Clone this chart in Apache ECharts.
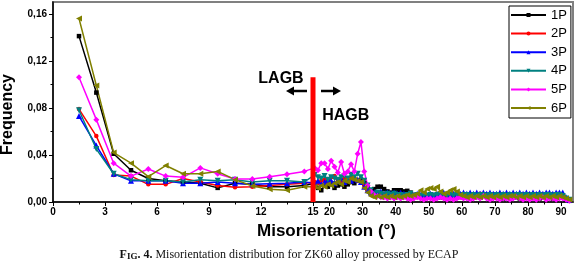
<!DOCTYPE html>
<html><head><meta charset="utf-8">
<script src="https://cdn.jsdelivr.net/npm/echarts@6/dist/echarts.min.js"></script>
<style>html,body{margin:0;padding:0;background:#fff}#c{width:578px;height:272px}</style>
</head><body><div id="c"></div>
<script>
// Bin centres (misorientation, degrees)
const binCenters = [
  1.5,2.5,3.5,4.5,5.5,6.5,7.5,8.5,9.5,10.5,
  11.5,12.5,13.5,14.5,15.5,16.5,17.5,18.5,19.5,20.5,
  21.5,22.5,23.5,24.5,25.5,26.5,27.5,28.5,29.5,30.5,
  31.5,32.5,33.5,34.5,35.5,36.5,37.5,38.5,39.5,40.5,
  41.5,42.5,43.5,44.5,45.5,46.5,47.5,48.5,49.5,50.5,
  51.5,52.5,53.5,54.5,55.5,56.5,57.5,58.5,59.5,60.5,
  61.5,62.5,63.5,64.5,65.5,66.5,67.5,68.5,69.5,70.5,
  71.5,72.5,73.5,74.5,75.5,76.5,77.5,78.5,79.5,80.5,
  81.5,82.5,83.5,84.5,85.5,86.5,87.5,88.5,89.5,90.5,
  91.5,92.5
];
const freq1P = [
  0.141,0.093,0.041,0.027,0.020,0.018,0.017,0.016,0.012,0.016,
  0.015,0.013,0.013,0.014,0.016,0.012,0.010,0.014,0.013,0.016,
  0.012,0.014,0.015,0.013,0.015,0.017,0.016,0.018,0.019,0.016,
  0.012,0.010,0.011,0.013,0.013,0.011,0.009,0.008,0.010,0.010,
  0.010,0.009,0.0095,0.008,0.006,0.005,0.005,0.006,0.004,0.005,
  0.004,0.005,0.004,0.006,0.005,0.004,0.005,0.004,0.005,0.004,
  0.005,0.004,0.006,0.005,0.004,0.006,0.005,0.004,0.005,0.004,
  0.005,0.003,0.005,0.004,0.005,0.004,0.003,0.005,0.004,0.005,
  0.004,0.005,0.003,0.004,0.005,0.004,0.003,0.004,0.005,0.004,
  0.002,0.001
];
const freq2P = [
  0.079,0.056,0.023,0.022,0.015,0.015,0.020,0.017,0.014,0.0125,
  0.013,0.014,0.015,0.016,0.017,0.016,0.018,0.019,0.017,0.021,
  0.022,0.019,0.018,0.020,0.019,0.021,0.020,0.018,0.017,0.014,
  0.010,0.007,0.006,0.007,0.006,0.007,0.005,0.006,0.007,0.006,
  0.005,0.006,0.005,0.007,0.005,0.004,0.006,0.005,0.004,0.005,
  0.006,0.004,0.005,0.004,0.005,0.006,0.004,0.005,0.004,0.006,
  0.005,0.004,0.006,0.005,0.007,0.005,0.004,0.005,0.006,0.004,
  0.005,0.004,0.006,0.005,0.004,0.005,0.006,0.004,0.005,0.004,
  0.005,0.006,0.004,0.005,0.004,0.005,0.006,0.005,0.004,0.005,
  0.003,0.002
];
const freq3P = [
  0.073,0.048,0.024,0.018,0.018,0.018,0.016,0.016,0.017,0.016,
  0.015,0.0155,0.016,0.017,0.016,0.018,0.015,0.017,0.019,0.018,
  0.016,0.018,0.020,0.017,0.019,0.018,0.020,0.019,0.017,0.013,
  0.010,0.008,0.008,0.008,0.009,0.007,0.008,0.007,0.008,0.007,
  0.008,0.007,0.006,0.007,0.006,0.007,0.006,0.007,0.006,0.007,
  0.006,0.007,0.006,0.008,0.007,0.006,0.007,0.006,0.007,0.008,
  0.007,0.008,0.007,0.008,0.007,0.008,0.007,0.008,0.007,0.007,
  0.008,0.007,0.008,0.007,0.008,0.007,0.008,0.007,0.008,0.007,
  0.008,0.007,0.008,0.007,0.008,0.008,0.007,0.008,0.008,0.008,
  0.004,0.002
];
const freq4P = [
  0.078,0.045,0.024,0.019,0.018,0.018,0.017,0.019,0.018,0.019,
  0.017,0.018,0.018,0.017,0.023,0.021,0.020,0.022,0.019,0.021,
  0.020,0.019,0.021,0.022,0.020,0.023,0.021,0.024,0.021,0.018,
  0.014,0.010,0.007,0.008,0.007,0.006,0.007,0.006,0.007,0.006,
  0.006,0.005,0.006,0.007,0.005,0.006,0.005,0.006,0.005,0.006,
  0.005,0.006,0.005,0.006,0.005,0.006,0.005,0.006,0.005,0.006,
  0.006,0.005,0.006,0.005,0.006,0.006,0.005,0.006,0.005,0.006,
  0.005,0.006,0.005,0.006,0.005,0.006,0.006,0.005,0.006,0.005,
  0.006,0.005,0.006,0.005,0.006,0.006,0.005,0.006,0.006,0.005,
  0.003,0.002
];
const freq5P = [
  0.106,0.070,0.033,0.022,0.028,0.022,0.021,0.029,0.024,0.0195,
  0.0195,0.0215,0.0235,0.026,0.029,0.027,0.033,0.033,0.028,0.035,
  0.030,0.025,0.034,0.024,0.026,0.032,0.026,0.041,0.051,0.026,
  0.014,0.009,0.006,0.005,0.004,0.004,0.003,0.004,0.003,0.004,
  0.003,0.004,0.003,0.002,0.003,0.004,0.003,0.002,0.003,0.003,
  0.002,0.003,0.004,0.003,0.002,0.003,0.002,0.003,0.004,0.003,
  0.003,0.002,0.003,0.004,0.003,0.005,0.003,0.002,0.003,0.003,
  0.002,0.003,0.003,0.002,0.003,0.004,0.003,0.002,0.003,0.002,
  0.003,0.002,0.003,0.004,0.002,0.003,0.003,0.002,0.003,0.003,
  0.002,0.001
];
const freq6P = [
  0.156,0.099,0.042,0.033,0.0215,0.031,0.024,0.024,0.026,0.019,
  0.0136,0.0108,0.010,0.013,0.013,0.012,0.014,0.013,0.015,0.014,
  0.016,0.017,0.015,0.018,0.017,0.020,0.019,0.018,0.017,0.012,
  0.008,0.005,0.004,0.005,0.004,0.005,0.004,0.005,0.004,0.005,
  0.004,0.005,0.006,0.005,0.006,0.007,0.010,0.008,0.011,0.012,
  0.011,0.013,0.009,0.007,0.008,0.010,0.011,0.009,0.006,0.005,
  0.004,0.005,0.004,0.005,0.004,0.005,0.004,0.005,0.004,0.005,
  0.004,0.005,0.004,0.005,0.005,0.004,0.005,0.004,0.005,0.004,
  0.005,0.004,0.005,0.004,0.005,0.004,0.005,0.004,0.005,0.004,
  0.003,0.002
];
const seriesNames = ['1P','2P','3P','4P','5P','6P'];
const seriesValues = [freq1P, freq2P, freq3P, freq4P, freq5P, freq6P];
const seriesColors = ['#000000','#ff0000','#0000ff','#008080','#ff00ff','#808000'];
const seriesSymbols = ['rect','circle','triangle','triangle','diamond','triangle'];
const seriesSymbolRotate = [0,0,0,180,0,90];
const xMajorTicks = [0,3,6,9,12,15,20,30,40,50,60,70,80,90];
const xMinorTicks = [1.5,4.5,7.5,10.5,13.5,25,35,45,55,65,75,85];
const yMajorTicks = [0,0.04,0.08,0.12,0.16];
const yMinorTicks = [0.02,0.06,0.10,0.14];
const boundaryLine = [[15,0],[15,0.106]];
const xBreak = 15, xEnd = 93.6, yMax = 0.17;

// broken axis: 0-15 on the left half, 15-93.6 compressed on the right half
function toAxis(x){ return x <= xBreak ? x : xBreak + (x - xBreak) * xBreak / (xEnd - xBreak); }
function fromAxis(t){ return t <= xBreak ? t : xBreak + (t - xBreak) * (xEnd - xBreak) / xBreak; }

const chart = echarts.init(document.getElementById('c'), null, {renderer:'canvas'});
const FONT = '"Liberation Sans", Arial, sans-serif';

const series = seriesNames.map((n, k) => ({
  name: n, type: 'line',
  data: binCenters.map((x, i) => [toAxis(x), seriesValues[k][i]]),
  symbol: seriesSymbols[k], symbolRotate: seriesSymbolRotate[k],
  symbolSize: seriesSymbols[k] === 'rect' ? 4.5 : (seriesSymbols[k] === 'circle' ? 4.5 : 6),
  showAllSymbol: true,
  lineStyle: {color: seriesColors[k], width: 1.5},
  itemStyle: {color: seriesColors[k]},
  animation: false
}));
series.push({
  name: 'boundary', type: 'line',
  data: boundaryLine.map(p => [toAxis(p[0]), p[1]]),
  symbol: 'none', lineStyle: {color: '#ff0000', width: 5}, z: 10, animation: false
});

chart.setOption({
  animation: false,
  backgroundColor: '#fff',
  grid: {left: 53, right: 5, top: 2, bottom: 70, show: true, borderColor: '#808080', borderWidth: 2, backgroundColor: 'transparent'},
  legend: {
    data: seriesNames, orient: 'vertical', left: 509, top: 6,
    itemWidth: 35, itemHeight: 5, itemGap: 4.6, padding: [2,4,3,1],
    borderColor: '#000', borderWidth: 1, backgroundColor: '#fff',
    textStyle: {fontFamily: FONT, fontSize: 13, color: '#000', lineHeight: 14}
  },
  xAxis: [{
    type: 'value', min: 0, max: 30,
    axisLine: {show: true, onZero: false, lineStyle: {color: '#000', width: 1.5}},
    axisTick: {show: true, length: 4, customValues: xMajorTicks.map(toAxis), lineStyle: {color: '#000', width: 1}},
    axisLabel: {customValues: xMajorTicks.map(toAxis), formatter: v => String(Math.round(fromAxis(v))),
      fontFamily: FONT, fontWeight: 'bold', fontSize: 10, color: '#000', margin: 5},
    splitLine: {show: false}
  }, {
    type: 'value', min: 0, max: 30, position: 'bottom', gridIndex: 0,
    axisLine: {show: false},
    axisTick: {show: true, length: 2.5, customValues: xMinorTicks.map(toAxis), lineStyle: {color: '#000', width: 1}},
    axisLabel: {show: false}, splitLine: {show: false}
  }],
  yAxis: [{
    type: 'value', min: 0, max: yMax, position: 'left',
    axisLine: {show: true, onZero: false, lineStyle: {color: '#000', width: 1.5}},
    axisTick: {show: true, length: 4, customValues: yMajorTicks, lineStyle: {color: '#000', width: 1}},
    axisLabel: {customValues: yMajorTicks, formatter: v => v.toFixed(2).replace('.', ','),
      fontFamily: FONT, fontWeight: 'bold', fontSize: 10, color: '#000', margin: 6},
    splitLine: {show: false}
  }, {
    type: 'value', min: 0, max: yMax, position: 'left', offset: 0,
    axisLine: {show: false},
    axisTick: {show: true, length: 2.5, customValues: yMinorTicks, lineStyle: {color: '#000', width: 1}},
    axisLabel: {show: false}, splitLine: {show: false}
  }],
  series: series,
  graphic: [
    {type: 'text', x: 8, y: 114.5, rotation: Math.PI / 2,
      style: {text: 'Frequency', font: 'bold 16px ' + FONT, fill: '#000', align: 'center', verticalAlign: 'middle'}},
    {type: 'text', x: 326.5, y: 231,
      style: {text: 'Misorientation (°)', font: 'bold 17px ' + FONT, fill: '#000', align: 'center', verticalAlign: 'middle'}},
    {type: 'text', x: 281, y: 78.3,
      style: {text: 'LAGB', font: 'bold 16px ' + FONT, fill: '#000', align: 'center', verticalAlign: 'middle'}},
    {type: 'text', x: 345.7, y: 115.7,
      style: {text: 'HAGB', font: 'bold 16px ' + FONT, fill: '#000', align: 'center', verticalAlign: 'middle'}},
    {type: 'line', shape: {x1: 307, y1: 91, x2: 291, y2: 91}, style: {stroke: '#000', lineWidth: 2.5}},
    {type: 'polygon', shape: {points: [[286,91],[294,86.5],[294,95.5]]}, style: {fill: '#000'}},
    {type: 'line', shape: {x1: 321, y1: 91, x2: 336, y2: 91}, style: {stroke: '#000', lineWidth: 2.5}},
    {type: 'polygon', shape: {points: [[341,91],[333,86.5],[333,95.5]]}, style: {fill: '#000'}},
    {type: 'text', x: 289, y: 255,
      style: {
        text: '{a|F}{b|IG}{a|. 4.}{c| Misorientation distribution for ZK60 alloy processed by ECAP}',
        rich: {
          a: {fontFamily: '"Liberation Serif", serif', fontWeight: 'bold', fontSize: 12, fill: '#111', verticalAlign: 'bottom'},
          b: {fontFamily: '"Liberation Serif", serif', fontWeight: 'bold', fontSize: 9, fill: '#111', verticalAlign: 'bottom'},
          c: {fontFamily: '"Liberation Serif", serif', fontSize: 12, fill: '#111', verticalAlign: 'bottom'}
        },
        align: 'center', verticalAlign: 'middle'
      }}
  ]
});
</script></body></html>
